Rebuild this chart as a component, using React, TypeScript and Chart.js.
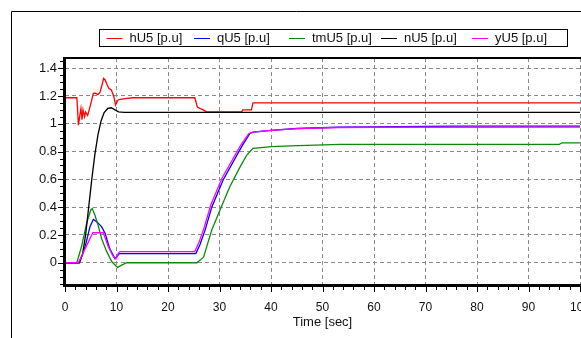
import React, { useEffect, useRef } from "react";
import { Chart, registerables } from "chart.js";

Chart.register(...registerables);

// ---- data ----
const seriesNames = ["hU5 [p.u]", "qU5 [p.u]", "tmU5 [p.u]", "nU5 [p.u]", "yU5 [p.u]"];
const seriesColors = ["#ff0000", "#0000ff", "#0a8a0a", "#000000", "#ff00ff"];

const hTime = [0, 2.3, 2.45, 2.6, 2.8, 3.1, 3.3, 3.5, 3.8, 4.0, 4.4, 4.7, 5.1, 5.5, 5.9, 6.4, 6.8, 7.1, 7.5, 7.8, 8.2, 8.5, 9.0, 9.5, 9.8, 10.0, 10.3, 10.7, 11.7, 13.2, 25.2, 25.7, 26.8, 27.5, 34.3, 34.5, 36.2, 36.5, 100];
const hVals = [1.187, 1.187, 1.1, 0.99, 1.04, 1.11, 1.03, 1.1, 1.05, 1.085, 1.06, 1.1, 1.158, 1.219, 1.22, 1.21, 1.227, 1.266, 1.327, 1.315, 1.279, 1.255, 1.243, 1.195, 1.135, 1.15, 1.171, 1.175, 1.18, 1.187, 1.187, 1.12, 1.1, 1.085, 1.085, 1.1, 1.1, 1.15, 1.15];

const qTime = [0, 2.7, 3.3, 3.9, 4.4, 4.85, 5.5, 6.15, 7.1, 7.8, 8.7, 9.7, 10.1, 10.55, 25.4, 26.2, 27.2, 28.5, 30.7, 34.3, 35.9, 36.6, 40, 45, 53, 76, 100];
const qVals = [0, 0, 0.05, 0.115, 0.19, 0.26, 0.312, 0.295, 0.26, 0.21, 0.1, 0.03, 0.045, 0.066, 0.066, 0.13, 0.235, 0.4, 0.595, 0.835, 0.93, 0.94, 0.953, 0.966, 0.975, 0.983, 0.983];

const tmTime = [0, 2.3, 3.2, 4.2, 5.0, 5.3, 5.8, 6.5, 7.1, 8.1, 9.1, 10.2, 11.0, 12.0, 25.6, 26.9, 28.5, 30.1, 32, 34, 35.3, 36.5, 40.1, 45.3, 53.4, 96, 96.5, 100];
const tmVals = [0, 0, 0.115, 0.283, 0.38, 0.39, 0.343, 0.26, 0.175, 0.08, 0.007, -0.033, -0.017, 0, 0, 0.04, 0.235, 0.38, 0.547, 0.69, 0.775, 0.823, 0.835, 0.842, 0.852, 0.852, 0.863, 0.863];

const nTime = [0, 2.8, 3.4, 4.0, 4.6, 5.2, 5.8, 6.4, 7.0, 7.6, 8.3, 9.0, 9.7, 10.4, 11.5, 100];
const nVals = [0, 0, 0.06, 0.2, 0.4, 0.6, 0.78, 0.92, 1.02, 1.08, 1.11, 1.115, 1.1, 1.086, 1.082, 1.082];

const yTime = [0, 2.6, 5.4, 7.45, 8.4, 9.4, 9.9, 10.35, 10.7, 25.2, 26.0, 27.0, 28.3, 30.5, 34.1, 35.7, 36.5, 40, 45, 53, 60, 100];
const yVals = [0, 0, 0.216, 0.216, 0.115, 0.043, 0.027, 0.067, 0.08, 0.08, 0.145, 0.25, 0.415, 0.61, 0.845, 0.93, 0.94, 0.952, 0.965, 0.973, 0.975, 0.976];

const seriesTimes = [hTime, qTime, tmTime, nTime, yTime];
const seriesValues = [hVals, qVals, tmVals, nVals, yVals];

const xTickValues = [0, 10, 20, 30, 40, 50, 60, 70, 80, 90, 100];
const yTickValues = [0, 0.2, 0.4, 0.6, 0.8, 1, 1.2, 1.4];
const xTitle = "Time [sec]";

const FONT = '"Liberation Sans", Arial, sans-serif';

const legendX = [106.5, 194, 289, 381, 472];

const decorPlugin = {
  id: "decor",
  beforeDraw(chart: any) {
    const ctx = chart.ctx;
    ctx.save();
    ctx.fillStyle = "#ffffff";
    ctx.fillRect(0, 0, chart.width, chart.height);
    ctx.restore();
  },
  afterDraw(chart: any) {
    const ctx = chart.ctx;
    const a = chart.chartArea;
    const xs = chart.scales.x;
    const ys = chart.scales.y;
    ctx.save();
    // outer frame
    ctx.strokeStyle = "#000";
    ctx.lineWidth = 1;
    ctx.beginPath();
    ctx.moveTo(11.5, chart.height);
    ctx.lineTo(11.5, 11.5);
    ctx.lineTo(chart.width, 11.5);
    ctx.stroke();

    // plot border
    ctx.lineWidth = 3;
    ctx.beginPath();
    ctx.moveTo(a.left - 0.5, a.top);
    ctx.lineTo(a.left - 0.5, a.bottom + 0.5);
    ctx.lineTo(a.right + 1, a.bottom + 0.5);
    ctx.stroke();
    ctx.lineWidth = 2;
    ctx.beginPath();
    ctx.moveTo(a.left - 2, a.top);
    ctx.lineTo(a.right + 1, a.top);
    ctx.stroke();

    // x ticks (major + minor)
    ctx.lineWidth = 1;
    ctx.beginPath();
    for (let i = 0; i <= 50; i++) {
      const px = Math.round(xs.getPixelForValue(i * 2)) + 0.5;
      const len = i % 5 === 0 ? 5 : 3;
      ctx.moveTo(px, a.bottom + 2);
      ctx.lineTo(px, a.bottom + 2 + len);
    }
    // y ticks
    for (let i = -3; i <= 29; i++) {
      const py = Math.round(ys.getPixelForValue(i * 0.05)) + 0.5;
      if (py < a.top || py > a.bottom) continue;
      const len = i % 4 === 0 ? 5 : 3;
      ctx.moveTo(a.left - 2, py);
      ctx.lineTo(a.left - 2 - len, py);
    }
    ctx.stroke();

    // legend
    ctx.lineWidth = 1;
    ctx.strokeStyle = "#000";
    ctx.strokeRect(99.5, 29.5, 468, 17);
    ctx.font = "13px " + FONT;
    ctx.textBaseline = "middle";
    ctx.textAlign = "left";
    const ly = 38.5;
    chart.data.datasets.forEach((ds: any, i: number) => {
      const x0 = legendX[i];
      ctx.strokeStyle = ds.borderColor;
      ctx.beginPath();
      ctx.moveTo(x0, ly);
      ctx.lineTo(x0 + 16, ly);
      ctx.stroke();
      ctx.fillStyle = "#111";
      ctx.fillText(ds.label, x0 + 23, ly);
    });
    ctx.restore();
  },
};

export default function App() {
  const ref = useRef<HTMLCanvasElement | null>(null);
  useEffect(() => {
    if (!ref.current) return;
    const datasets = seriesNames.map((name, i) => ({
      label: name,
      data: seriesTimes[i].map((t, j) => ({ x: t, y: seriesValues[i][j] })),
      borderColor: seriesColors[i],
      backgroundColor: seriesColors[i],
      borderWidth: 1.3,
      pointRadius: 0,
      tension: 0,
      fill: false,
      order: seriesNames.length - i,
    }));
    const chart = new Chart(ref.current, {
      type: "line",
      data: { datasets },
      plugins: [decorPlugin],
      options: {
        animation: false,
        responsive: false,
        devicePixelRatio: 1,
        layout: { padding: { left: 15, top: 58, right: 1, bottom: 0 } },
        plugins: { legend: { display: false }, tooltip: { enabled: false } },
        scales: {
          x: {
            type: "linear",
            min: 0,
            max: 100,
            afterFit: (s: any) => { s.height = 53; s.paddingRight = 0; s.paddingLeft = 0; },
            afterBuildTicks: (s: any) => { s.ticks = xTickValues.map((v) => ({ value: v })); },
            ticks: { color: "#111", font: { size: 12, family: FONT }, padding: 15, maxRotation: 0, autoSkip: false },
            grid: { color: "#8a8a8a", drawTicks: false },
            border: { display: false, dash: [4, 3] },
            title: { display: true, text: xTitle, color: "#111", font: { size: 13, family: FONT }, padding: { top: 0, bottom: 8 } },
          },
          y: {
            type: "linear",
            min: -0.16,
            max: 1.473,
            afterFit: (s: any) => { s.width = 50; s.paddingTop = 0; s.paddingBottom = 0; },
            afterBuildTicks: (s: any) => { s.ticks = yTickValues.map((v) => ({ value: v })); },
            ticks: {
              color: "#111",
              font: { size: 13, family: FONT },
              padding: 8,
              autoSkip: false,
              callback: (v: any) => String(Math.round(Number(v) * 10) / 10),
            },
            grid: { color: "#8a8a8a", drawTicks: false },
            border: { display: false, dash: [4, 3] },
          },
        },
      } as any,
    });
    return () => chart.destroy();
  }, []);
  return (
    <div style={{ position: "fixed", left: 0, top: 0, width: 581, height: 338, background: "#fff" }}>
      <canvas ref={ref} width={581} height={338} style={{ display: "block", width: 581, height: 338 }} />
    </div>
  );
}
